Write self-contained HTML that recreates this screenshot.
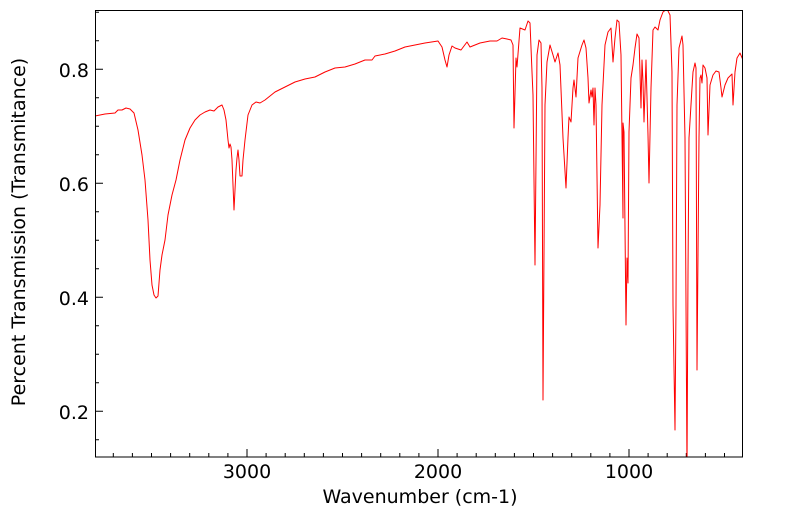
<!DOCTYPE html>
<html><head><meta charset="utf-8"><style>body{margin:0;background:#fff}svg{display:block}text{font-family:"DejaVu Sans","Liberation Sans",sans-serif;font-size:19px;fill:#000}</style></head><body>
<svg width="799" height="516" viewBox="0 0 799 516">
<defs><clipPath id="c"><rect x="95" y="10" width="648" height="447"/></clipPath></defs>
<g id="ticks" stroke="#000" stroke-width="1"></g>
<polyline clip-path="url(#c)" fill="none" stroke="#ff0000" stroke-width="1" stroke-linejoin="round" points="
95,116 105,114 115,113 118,110 122,110 126,108 130,109 134,113 138,130 142,155 145,180 148,220 150,260 152,285 154,295 156,298 158,296 160,270 162,255 165,240 168,215 172,195 176,180 180,160 185,140 190,128 195,120 200,115 205,112 210,110 214,111 218,107 222,105 224,110 226,120 228,140 229,148 230,144 231,147 232,160 234,210 235,190 236,170 237,158 238,150 239,160 240,176 242,176 243,160 245,140 248,115 252,105 256,102 260,103 265,100 270,96 275,92 285,87 295,82 305,79 315,77 325,72 335,68 345,67 355,64 365,60 372,60 375,56 385,54 395,51 405,47 415,45 425,43 438,41 442,47 445,60 447,67 449,55 452,46 455,48 458,49 461,50 464,46 467,42 470,47 475,45 480,43 490,41 497,41 502,38 507,39 511,40 513,45 514,128 516,58 517,67 520,28 525,30 528,21 530,23 532,72 533,95 535,265 537,55 539,40 541,43 542,88 543,400 545,105 547,62 550,45 553,55 555,62 558,53 560,65 563,138 566,188 568,138 569,117 571,122 573,88 574,80 576,97 578,58 582,45 584,40 586,48 588,78 589,103 591,90 592,97 593,88 594,125 595,88 596,105 598,248 600,205 602,105 605,45 608,32 611,28 613,62 615,38 617,20 619,22 621,55 623,218 623,123 624,132 626,325 627,258 628,283 629,132 631,78 633,65 635,48 637,34 639,38 641,108 642,60 643,82 644,122 646,60 648,135 649,183 651,88 653,30 655,27 658,30 660,20 663,12 667,9 670,15 672,72 673,305 675,430 676,305 677,105 679,48 682,36 683,45 685,138 687,470 688,272 689,138 692,88 693,72 695,63 696,68 697,370 699,138 700,78 701,75 702,83 703,65 705,68 707,78 708,135 710,85 713,75 716,71 719,72 721,88 722,97 725,85 728,78 732,74 733,105 735,72 737,58 740,53 743,60"/>
<rect x="95.5" y="10.5" width="647" height="446.5" fill="none" stroke="#000" stroke-width="1"/>
<text x="247" y="478" text-anchor="middle">3000</text>
<text x="438" y="478" text-anchor="middle">2000</text>
<text x="629" y="478" text-anchor="middle">1000</text>
<text x="420" y="503" text-anchor="middle">Wavenumber (cm-1)</text>
<text x="89" y="77" text-anchor="end">0.8</text>
<text x="89" y="191" text-anchor="end">0.6</text>
<text x="89" y="305" text-anchor="end">0.4</text>
<text x="89" y="419" text-anchor="end">0.2</text>
<text transform="translate(25,232) rotate(-90)" text-anchor="middle">Percent Transmission (Transmitance)</text>
</svg>
<script>
var g=document.getElementById('ticks'),d='';
for(var w=400;w<=3800;w+=100){var x=629+(1000-w)*0.191;if(x<96||x>742)continue;d+='M'+x.toFixed(1)+',457v'+(w%1000==0?-8:-4);}
for(var v=0.15;v<0.91;v+=0.05){var y=69.3+(0.8-v)*570;if(y<11||y>456)continue;var maj=Math.abs(Math.round(v*10)-v*10)<0.01&&Math.round(v*10)%2==0;d+='M95,'+y.toFixed(1)+'h'+(maj?8:4);}
var p=document.createElementNS('http://www.w3.org/2000/svg','path');p.setAttribute('d',d);g.appendChild(p);
</script>
</body></html>
